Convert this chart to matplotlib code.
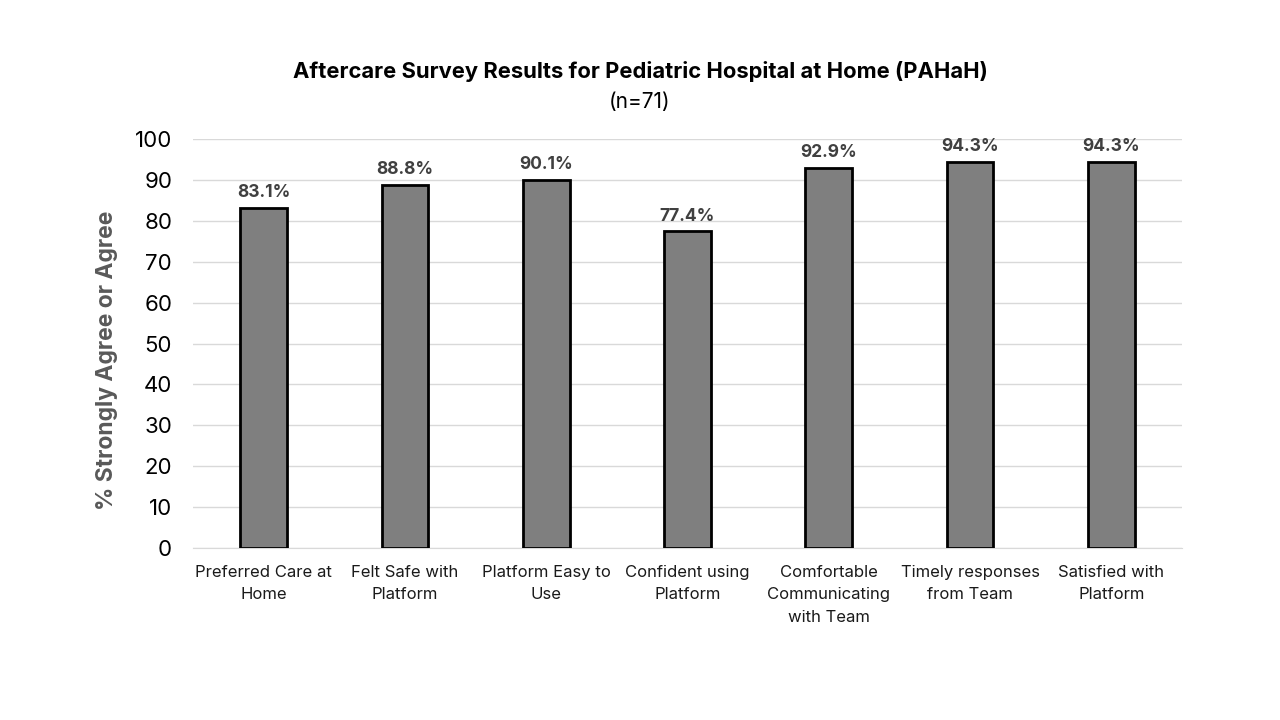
import matplotlib.pyplot as plt
import numpy as np

plt.rcParams['font.family'] = ['Inter', 'DejaVu Sans']

# survey items and results
categories = ["Preferred Care at\nHome", "Felt Safe with\nPlatform", "Platform Easy to\nUse",
              "Confident using\nPlatform", "Comfortable\nCommunicating\nwith Team",
              "Timely responses\nfrom Team", "Satisfied with\nPlatform"]
values = [83.1, 88.8, 90.1, 77.4, 92.9, 94.3, 94.3]
yticks = [0, 10, 20, 30, 40, 50, 60, 70, 80, 90, 100]

fig = plt.figure(figsize=(12.8, 7.2), dpi=100)
ax = fig.add_axes([0.1508, 0.2389, 0.7726, 0.568])

x = np.arange(len(categories))
ax.bar(x, values, width=0.33, color='#7f7f7f', edgecolor='black', linewidth=2, zorder=3)

# value labels above the bars
for xi, v in zip(x, values):
    ax.text(xi, v + 1.7, f"{v:.1f}%", ha='center', va='bottom', fontsize=12.5,
            fontweight='bold', color='#404040')

ax.set_xlim(-0.5, len(categories) - 0.5)
ax.set_ylim(0, 100)
ax.set_yticks(yticks)
ax.tick_params(axis='y', labelsize=16, length=0, pad=15, colors='black')
ax.set_xticks(x)
ax.set_xticklabels(categories, fontsize=12, color='#1a1a1a', linespacing=1.65)
ax.tick_params(axis='x', length=0, pad=12)
ax.grid(axis='y', color='#d9d9d9', linewidth=1, zorder=0)
for s in ['top', 'right', 'left']:
    ax.spines[s].set_visible(False)
ax.spines['bottom'].set_color('#d9d9d9')

ax.set_ylabel("% Strongly Agree or Agree", fontsize=16.5, fontweight='bold', color='#595959')
ax.yaxis.set_label_coords(-0.076, 0.46)

fig.text(0.5, 0.9, "Aftercare Survey Results for Pediatric Hospital at Home (PAHaH)",
         ha='center', va='center', fontsize=15.8, fontweight='bold', color='black')
fig.text(0.5, 0.859, "(n=71)", ha='center', va='center', fontsize=15, color='black')

fig.savefig("out.png", dpi=100)
